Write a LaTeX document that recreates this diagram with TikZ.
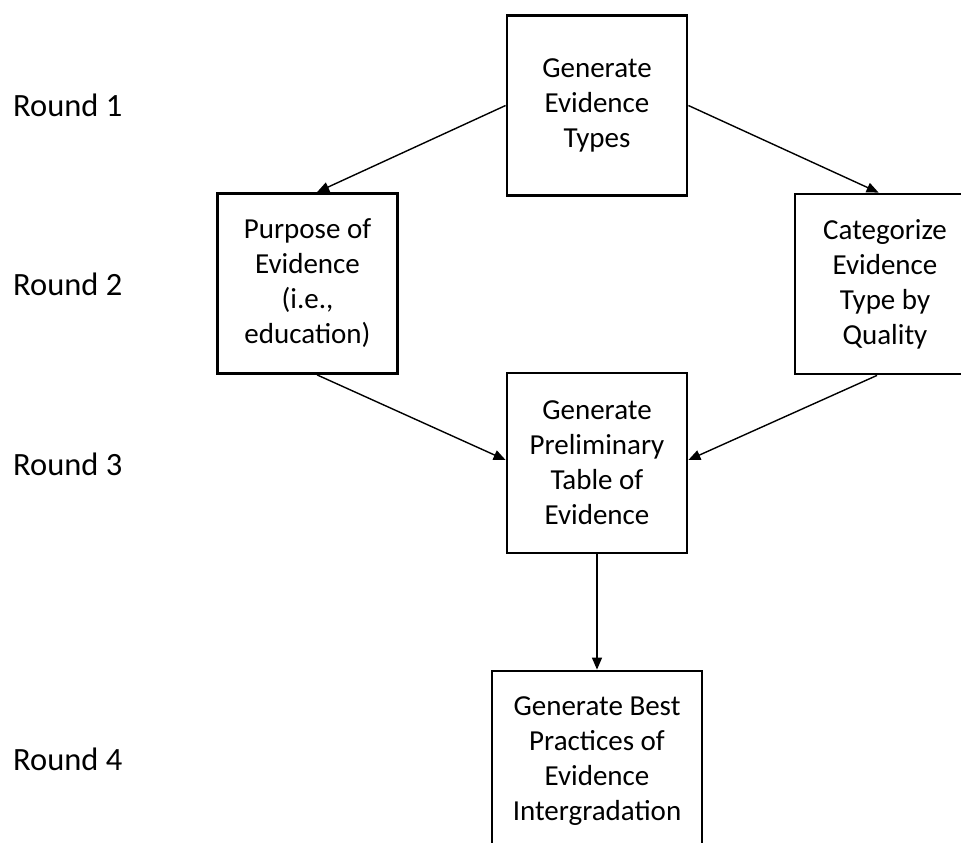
\documentclass[tikz,border=0pt]{standalone}
\usepackage{fontspec}
\setmainfont{Carlito}
\usetikzlibrary{arrows.meta}
\usetikzlibrary{calc}
\tikzset{
  every node/.style = {font = \fontsize{29}{35}\selectfont}
}
\tikzset{
    >={Triangle[length=12pt,width=10pt]}
}
\tikzset{
  stepbox/.style = {draw, line width=2.8pt, align=center, inner sep=0pt,
    minimum width=180pt, minimum height=180pt},
  roundlabel/.style = {anchor=base west, inner sep=0pt,
    font=\fontsize{32.5}{39}\selectfont},
  flow/.style = {->, line width=1.4pt}
}

\begin{document}
\begin{tikzpicture}[x=1pt,y=-1pt]
\useasboundingbox (0,0) rectangle (961,843);
\clip (0,0) rectangle (961,843);

% Round labels on the left
\node[roundlabel] (r1) at (13,116) {Round 1};
\node[roundlabel] (r2) at (13,295) {Round 2};
\node[roundlabel] (r3) at (13,475) {Round 3};
\node[roundlabel] (r4) at (13,770) {Round 4};

% The boxes
\node[stepbox] (types) at (597,105.5) {Generate\\Evidence\\Types};
\node[stepbox] (purpose) at (307.5,283.5) {Purpose of\\Evidence\\(i.e.,\\education)};
\node[stepbox] (quality) at (885,284) {Categorize\\Evidence\\Type by\\Quality};
\node[stepbox] (table) at (597,463) {Generate\\Preliminary\\Table of\\Evidence};
\node[stepbox, minimum width=210pt] (best) at (597,761)
  {Generate Best\\Practices of\\Evidence\\Intergradation};

% The arrows
\draw[flow] (types.west) -- (purpose.84);
\draw[flow] (types.east) -- (quality.94);
\draw[flow] (purpose.276) -- ($(table.west)+(0,-3)$);
\draw[flow] (quality.265) -- ($(table.east)+(0,-3)$);
\draw[flow] (table.south) -- (best.north);
\end{tikzpicture}
\end{document}
